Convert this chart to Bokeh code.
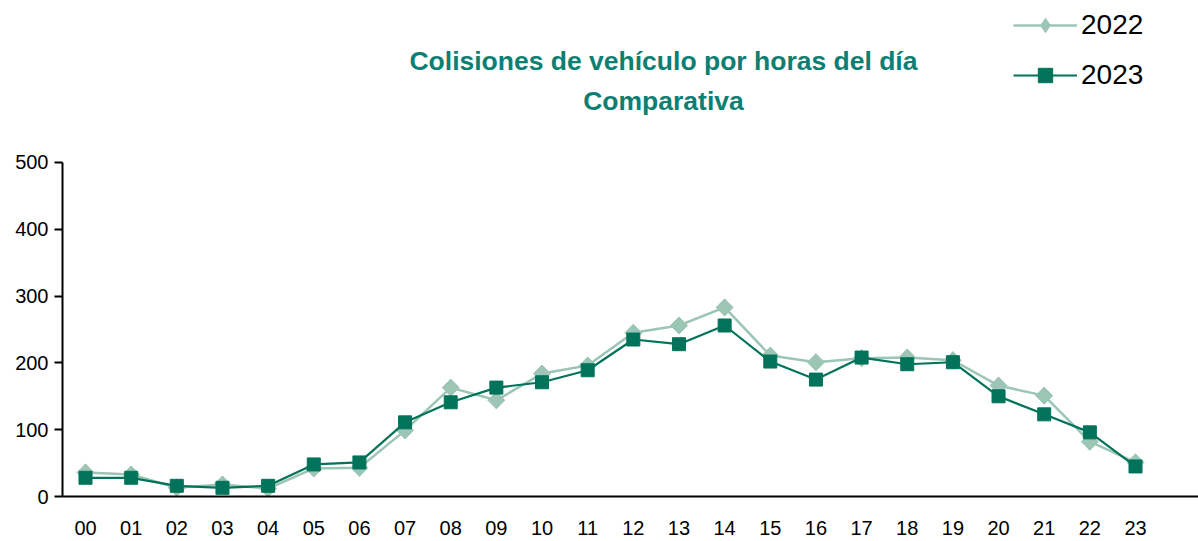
import math
from bokeh.plotting import figure
from bokeh.models import Range1d, Label, Legend, LegendItem, FixedTicker
from bokeh.embed import file_html
from bokeh.resources import INLINE

hours = ["00", "01", "02", "03", "04", "05", "06", "07", "08", "09", "10", "11",
         "12", "13", "14", "15", "16", "17", "18", "19", "20", "21", "22", "23"]
v2022 = [36, 33, 13, 18, 12, 42, 43, 99, 163, 144, 184, 196,
         245, 256, 283, 211, 201, 207, 208, 204, 166, 151, 82, 51]
v2023 = [28, 28, 16, 13, 16, 48, 51, 111, 141, 163, 171, 189,
         235, 228, 256, 202, 175, 208, 198, 201, 150, 123, 96, 45]
y_ticks = [0, 100, 200, 300, 400, 500]

title1 = "Colisiones de vehículo por horas del día"
title2 = "Comparativa"

FONT = "Liberation Sans"
DARK = "#00735a"
LIGHT = "#9cc5b5"
TITLE_C = "#0b8072"

xs = list(range(len(hours)))

p = figure(width=1198, height=541, output_backend="svg", toolbar_location=None,
           x_range=Range1d(-0.504, 24.38), y_range=Range1d(0, 742.5),
           min_border_left=62, min_border_right=0, min_border_top=0,
           min_border_bottom=45)
p.outline_line_color = None
p.xgrid.visible = False
p.ygrid.visible = False
p.background_fill_color = "white"

r22l = p.line(xs, v2022, line_color=LIGHT, line_width=2.5)
# diamond used for the legend key (hidden under the rotated squares in the plot)
r22k = p.scatter(xs, v2022, marker="diamond", size=17,
                 fill_color=LIGHT, line_color=LIGHT, line_width=1)
r22m = p.scatter(xs, v2022, marker="square", size=12, angle=math.pi / 4,
                 fill_color=LIGHT, line_color=LIGHT, line_width=1)
r23l = p.line(xs, v2023, line_color=DARK, line_width=2.2)
r23m = p.scatter(xs, v2023, marker="square", size=13,
                 fill_color=DARK, line_color=DARK, line_width=1)

# axes
p.xaxis.ticker = FixedTicker(ticks=xs)
p.xaxis.major_label_overrides = {i: h for i, h in enumerate(hours)}
p.xaxis.major_tick_line_color = None
p.xaxis.minor_tick_line_color = None
p.xaxis.major_tick_out = 0
p.xaxis.major_tick_in = 0
p.xaxis.major_label_standoff = 24
p.xaxis.axis_line_color = "black"
p.xaxis.axis_line_width = 2
p.xaxis.major_label_text_font = FONT
p.xaxis.major_label_text_font_size = "20px"
p.xaxis.major_label_text_color = "black"

p.yaxis.ticker = FixedTicker(ticks=y_ticks)
p.yaxis.bounds = (0, 500)
p.yaxis.minor_tick_line_color = None
p.yaxis.major_tick_out = 8
p.yaxis.major_tick_in = 0
p.yaxis.major_tick_line_color = "black"
p.yaxis.major_tick_line_width = 2
p.yaxis.major_label_standoff = 6
p.yaxis.axis_line_color = "black"
p.yaxis.axis_line_width = 2
p.yaxis.major_label_text_font = FONT
p.yaxis.major_label_text_font_size = "20px"
p.yaxis.major_label_text_color = "black"

# title lines
for txt, yv in [(title1, 652), (title2, 592)]:
    p.add_layout(Label(x=12.66, y=yv, text=txt, text_align="center",
                       text_baseline="middle", text_font=FONT,
                       text_font_style="bold", text_font_size="26.5px",
                       text_color=TITLE_C))

legend = Legend(items=[LegendItem(label="2022", renderers=[r22l, r22k]),
                       LegendItem(label="2023", renderers=[r23l, r23m])],
                location=(951, 403), orientation="vertical",
                glyph_width=64, glyph_height=36, label_height=36,
                spacing=14, padding=0, margin=0, label_standoff=4,
                label_text_font=FONT, label_text_font_size="28px",
                label_text_color="black", border_line_alpha=0,
                background_fill_alpha=0)
p.add_layout(legend, "center")

open("out.html", "w").write(file_html(p, INLINE))
